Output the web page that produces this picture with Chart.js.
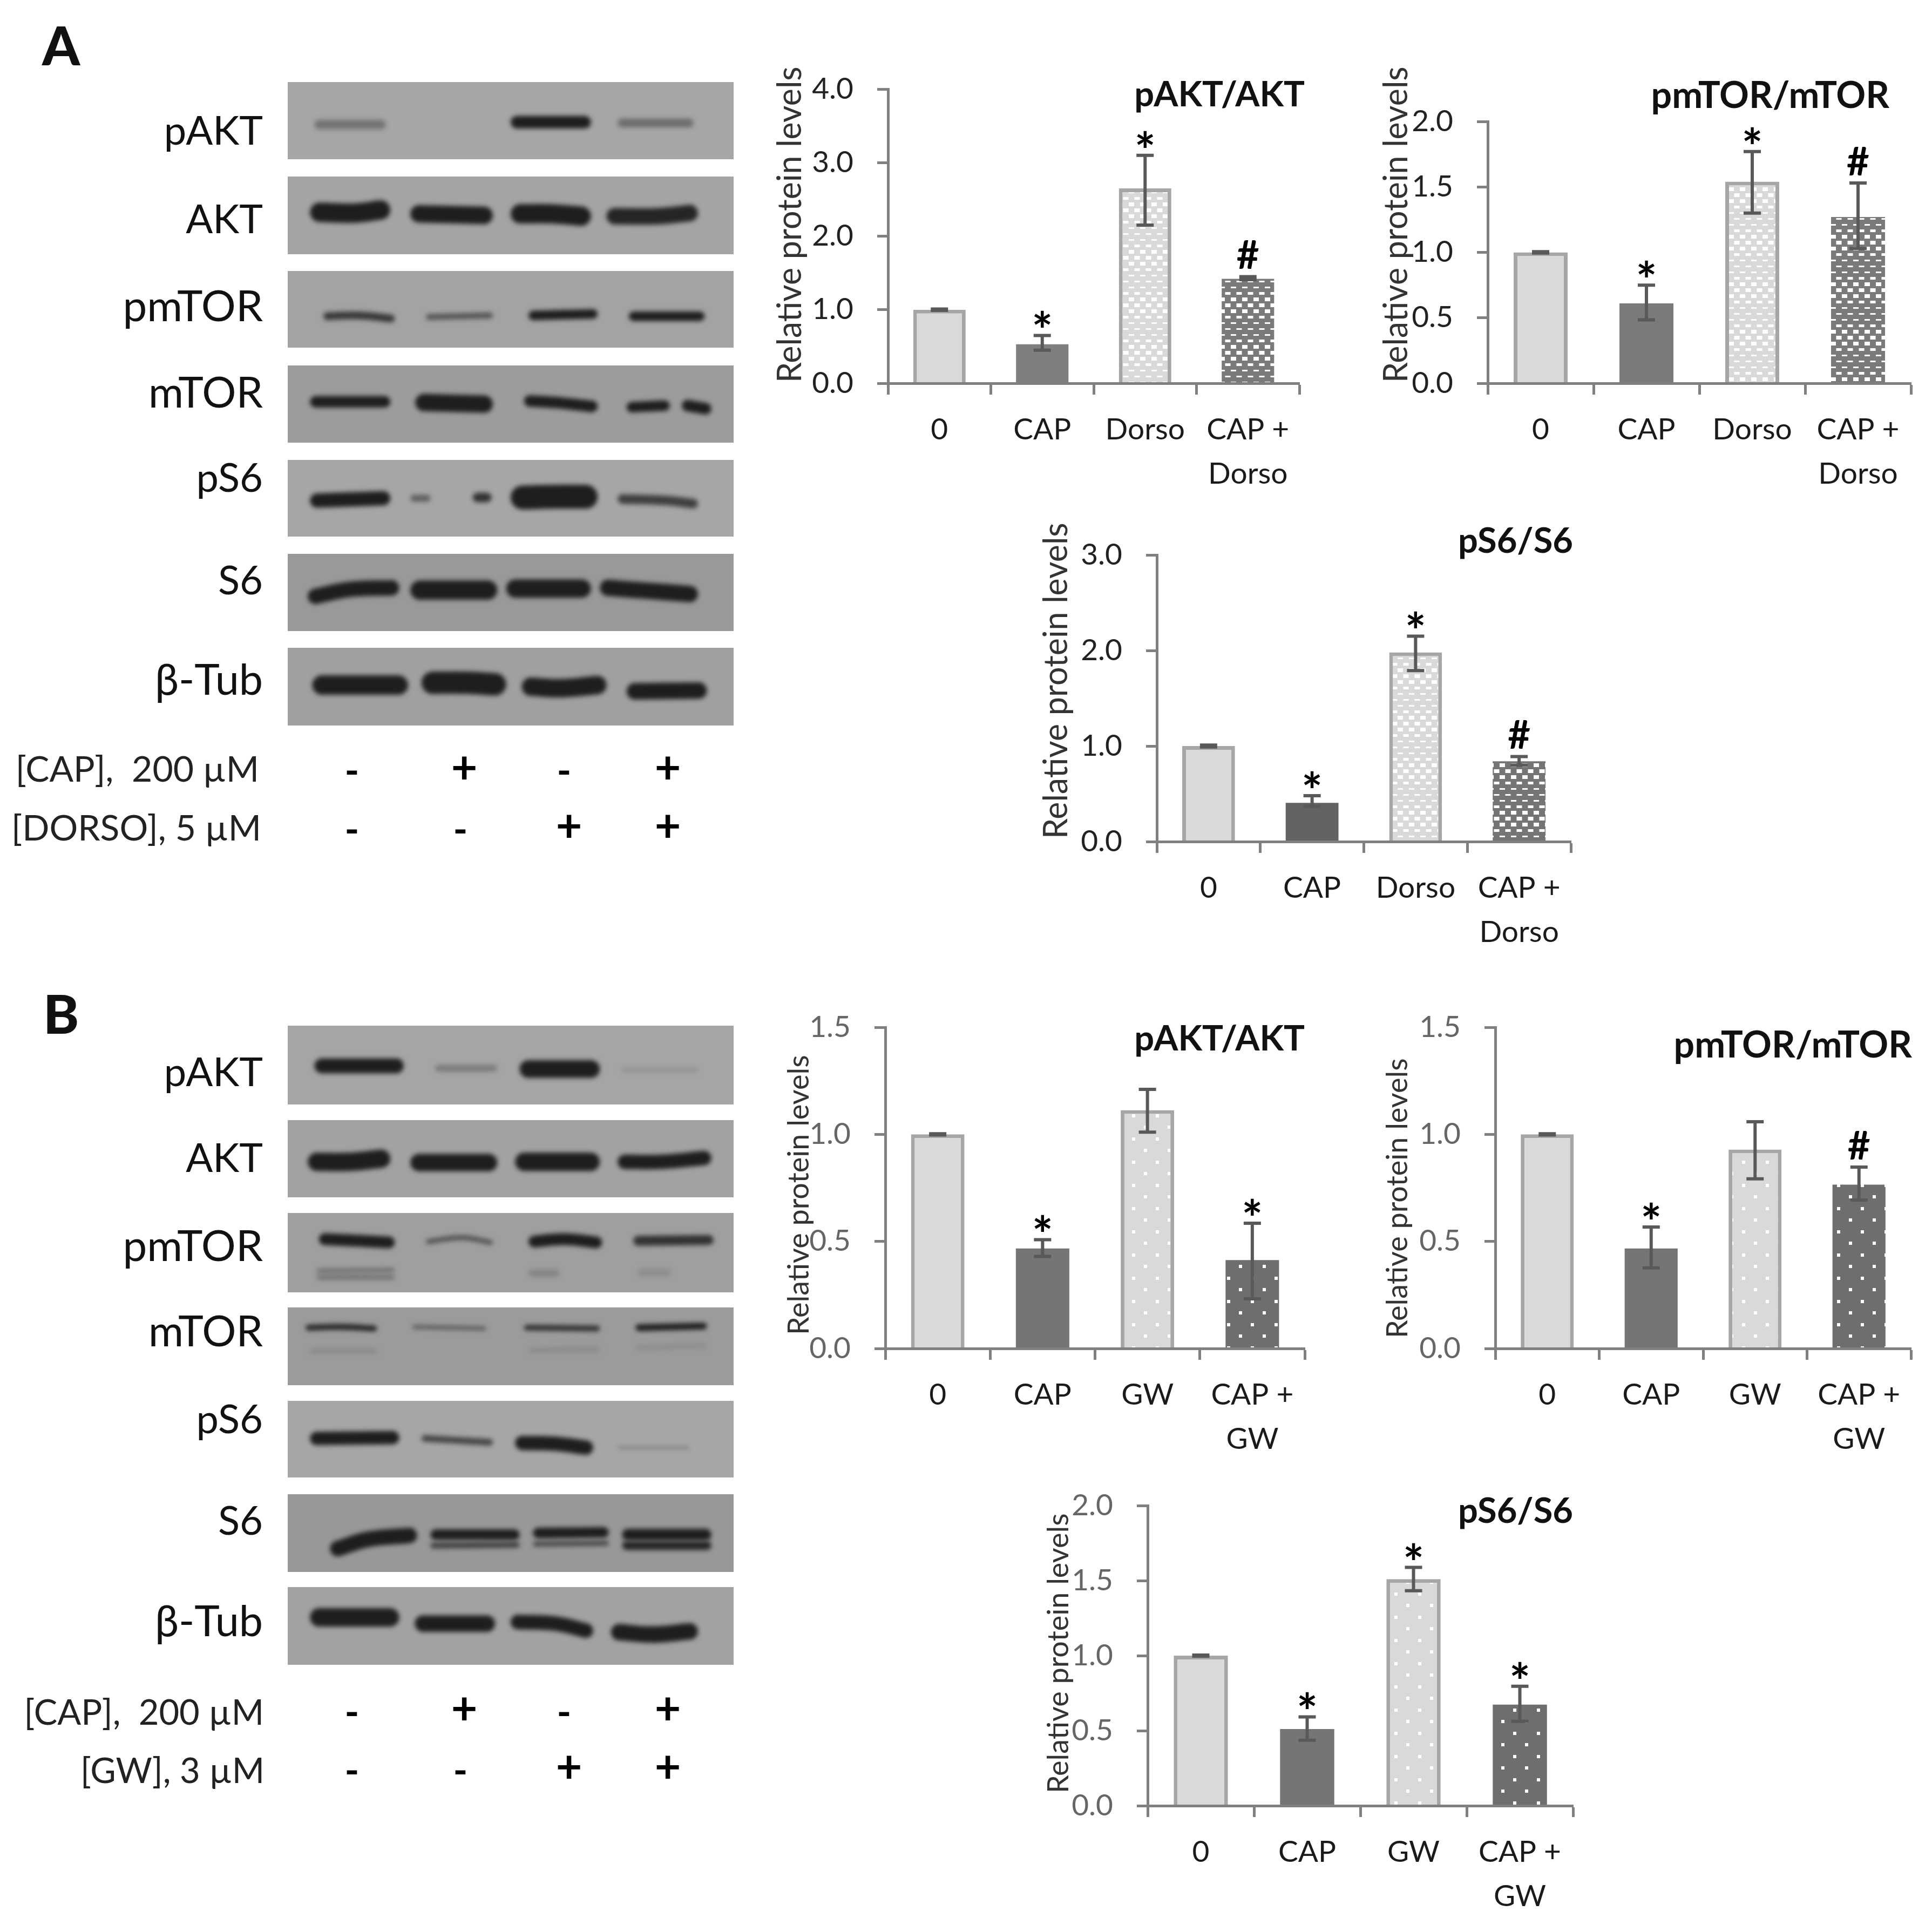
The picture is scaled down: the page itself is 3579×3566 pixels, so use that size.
<!DOCTYPE html>
<html>
<head>
<meta charset="utf-8">
<title>CAP blots</title>
<script src="https://cdn.jsdelivr.net/npm/chart.js@4"></script>
<style>
    html, body { margin: 0; background: #fff; }
    #page { position: relative; width: 3579px; height: 3566px; overflow: hidden; font-family: Lato, sans-serif; color: #111; }
    canvas { position: absolute; display: block; }
    .lbl { position: absolute; line-height: 1; white-space: pre; transform: translateY(-50%); }
    .right { text-align: right; }
    .mark { position: absolute; line-height: 1; font-weight: 700; transform: translate(-50%, -50%); }
</style>
</head>
<body>
<div id="page"></div>
<script>
// Bar chart values
const catsDorso = ['0', 'CAP', 'Dorso', ['CAP +', 'Dorso']];
const catsGw = ['0', 'CAP', 'GW', ['CAP +', 'GW']];

const valuesA1 = [1.0, 0.53, 2.65, 1.42];
const hiA1 = [1.01, 0.65, 3.10, 1.45];
const loA1 = [0.99, 0.45, 2.15, 1.41];
const marksA1 = ['', '*', '*', '#'];

const valuesA2 = [1.0, 0.61, 1.54, 1.27];
const hiA2 = [1.005, 0.75, 1.77, 1.53];
const loA2 = [0.995, 0.485, 1.30, 1.03];
const marksA2 = ['', '*', '*', '#'];

const valuesA3 = [1.0, 0.405, 1.98, 0.84];
const hiA3 = [1.01, 0.48, 2.15, 0.89];
const loA3 = [0.99, 0.37, 1.79, 0.80];
const marksA3 = ['', '*', '*', '#'];

const valuesB1 = [1.0, 0.467, 1.113, 0.413];
const hiB1 = [1.003, 0.508, 1.21, 0.585];
const loB1 = [0.997, 0.43, 1.01, 0.232];
const marksB1 = ['', '*', '', '*'];

const valuesB2 = [1.0, 0.467, 0.929, 0.765];
const hiB2 = [1.003, 0.567, 1.059, 0.847];
const loB2 = [0.997, 0.376, 0.792, 0.693];
const marksB2 = ['', '*', '', '#'];

const valuesB3 = [1.0, 0.511, 1.51, 0.674];
const hiB3 = [1.004, 0.592, 1.588, 0.796];
const loB3 = [0.996, 0.436, 1.433, 0.562];
const marksB3 = ['', '*', '*', '*'];

const ticksA1 = [0, 4, 1], ticksA2 = [0, 2, 0.5], ticksA3 = [0, 3, 1];
const ticksB1 = [0, 1.5, 0.5], ticksB2 = [0, 1.5, 0.5], ticksB3 = [0, 2, 0.5];

// Blot rows. A band is [height %, density, x,y, x,y, ...], in % of the row box
const rowNames = ['pAKT', 'AKT', 'pmTOR', 'mTOR', 'pS6', 'S6', 'β-Tub'];
const rowNameSizes = [74, 74, 80, 79, 74, 74, 79];

const bandsA = [
    [[10, .35, 6,55, 22,55], [13, 1, 50,52, 68,52], [9, .4, 74,53, 91,53]],
    [[20, 1, 5,46, 15,47, 23,43], [18, 1, 27.5,48, 46,50], [20, 1, 50,48, 59,48, 68,51], [17, .95, 71.5,51, 83,51, 92,47]],
    [[8, .8, 8,59, 16,58, 24,62], [6, .6, 31,60, 46,58], [10, 1, 54,58, 69.5,56], [10, 1, 76.5,59, 93.5,59]],
    [[12, 1, 5,47, 23,47], [18, 1.1, 28.6,48, 46,50], [12, 1, 53,46, 60,48, 69.5,53], [11, 1, 76,54, 85.7,52], [12, 1, 88.4,52, 95,56]],
    [[15, 1, 5,53, 23,50], [7, .5, 27.5,50, 32,50], [10, .85, 41.5,49, 45.7,49], [25, 1.2, 50,49, 60,48, 69.5,48], [10, .75, 74,51, 85,53, 92,57]],
    [[16, 1.1, 4.5,55, 14,46, 25,44], [20, 1.1, 27.5,47, 47,47], [19, 1.1, 49,45, 68,45], [17, 1.1, 70,44, 81,48, 92,52]],
    [[20, 1.05, 5.5,48, 27,48], [23, 1.05, 30,45, 40,45, 49,47], [19, 1.05, 52.5,50, 61,52, 71.5,48], [17, 1.05, 76,56, 94,55]]
];

const bandsB = [
    [[15, 1.05, 6,51, 26,51], [7, .28, 33,54, 47,54], [18, 1.15, 52,55, 70,55], [4, .12, 75,56, 92,56]],
    [[19, 1.1, 4.5,54, 14,54, 23,50], [18, 1.1, 27.5,55, 47,55], [19, 1.1, 51,54, 70,54], [15, 1.1, 74,54, 84,54, 95,49]],
    [[12, 1, 7,33, 16,35, 24,37], [5, .6, 31,36, 39,31, 46,37], [12, 1, 54,36, 62,33, 70.5,37], [10, .85, 77.5,35, 95.5,34], [5, .35, 6.5,73, 24,72], [5, .35, 6.5,81, 24,81], [8, .2, 54,76, 61,76], [8, .15, 78.5,75, 86,75]],
    [[6, .95, 4,26, 12,25, 20,27], [4, .55, 28,25, 44.5,27], [6, .85, 53,26, 70,27], [7, 1, 78,26, 94,24], [5, .18, 5,56, 20,56], [5, .18, 54,55, 70,54], [5, .15, 78,52, 94,49]],
    [[14, 1.05, 5,49, 25,48], [7, .7, 30,49, 46,54], [15, 1.05, 51,55, 60,56, 68.5,61], [3, .25, 74,61, 90,61]],
    [[16, 1.1, 9.5,70, 18,58, 29,53], [11, 1.1, 32,52, 52,52], [6, .75, 32,66, 52,65], [11, 1.1, 55,50, 72,49], [5, .7, 55,64, 72,63], [12, 1.1, 75,52, 95,52], [9, .95, 75,66, 95,66]],
    [[19, 1.05, 5,39, 25,39], [17, 1.05, 28.5,47, 46.5,47], [15, 1.05, 50,45, 60,47, 68.5,56], [17, 1.05, 72.5,58, 82,61, 92,57]]
];

const grayA = ['#a6a6a6', '#a4a4a4', '#a3a3a3', '#9c9c9c', '#a6a6a6', '#999999', '#a0a0a0'];
const grayB = ['#a5a5a5', '#a2a2a2', '#9f9f9f', '#9b9b9b', '#a6a6a6', '#989898', '#a2a2a2'];

const rowTopsA = [152, 327, 502, 677, 852, 1026, 1200];
const rowBottomsA = [295, 471, 644, 820, 994, 1169, 1344];
const rowMidsA = [240, 404, 564, 724, 883, 1073, 1256];
const rowTopsB = [1900, 2075, 2247, 2422, 2595, 2768, 2940];
const rowBottomsB = [2046, 2218, 2394, 2566, 2737, 2912, 3084];
const rowMidsB = [1984, 2143, 2305, 2463, 2627, 2815, 3000];

const treatA = ['[CAP],  200 µM', '[DORSO], 5 µM'];
const treatB = ['[CAP],  200 µM', '[GW], 3 µM'];
const signsCap = ['-', '+', '-', '+'];
const signsDrug = ['-', '-', '+', '+'];

Chart.defaults.font.family = 'Lato, sans-serif';
Chart.defaults.animation = false;

const page = document.getElementById('page');

function addText(text, x, y, size, cls, color) {
    const el = document.createElement('div');
    el.className = cls;
    el.textContent = text;
    el.style.fontSize = size + 'px';
    el.style.top = y + 'px';
    if (cls.indexOf('right') >= 0) {
        el.style.left = (x - 700) + 'px';
        el.style.width = '700px';
    } else {
        el.style.left = x + 'px';
    }
    if (color) el.style.color = color;
    page.appendChild(el);
    return el;
}

function addCanvas(x, y, w, h) {
    const c = document.createElement('canvas');
    c.width = w;
    c.height = h;
    c.style.left = x + 'px';
    c.style.top = y + 'px';
    c.style.width = w + 'px';
    c.style.height = h + 'px';
    page.appendChild(c);
    return c;
}

// ---- blots ----
function grayFor(density) {
    const g = Math.round(Math.max(30, 160 - 130 * density));
    return `rgb(${g},${g},${g})`;
}

const blotPlugin = {
    id: 'blot',
    beforeDraw(chart, args, opts) {
        chart.ctx.fillStyle = opts.background;
        chart.ctx.fillRect(0, 0, chart.width, chart.height);
    },
    beforeDatasetsDraw(chart) {
        chart.ctx.save();
        chart.ctx.filter = 'blur(4px)';
    },
    afterDatasetsDraw(chart) {
        chart.ctx.restore();
    }
};

function drawBlotRow(bands, top, bottom, bg) {
    const h = bottom - top;
    const canvas = addCanvas(533, top, 826, h);
    const datasets = bands.map(b => {
        const pts = [];
        for (let i = 2; i < b.length; i += 2) pts.push({ x: b[i], y: b[i + 1] });
        const wide = b[0] / 100 * h * 1.25;
        // round caps stick out, pull the ends in
        const inset = wide / 2 / 8.26;
        pts[0].x += inset;
        pts[pts.length - 1].x -= inset;
        return {
            data: pts,
            borderColor: grayFor(b[1]),
            borderWidth: wide,
            borderCapStyle: 'round',
            tension: 0.4,
            pointRadius: 0
        };
    });
    new Chart(canvas, {
        type: 'line',
        data: { datasets },
        plugins: [blotPlugin],
        options: {
            responsive: false,
            devicePixelRatio: 1,
            layout: { padding: 0 },
            plugins: { legend: { display: false }, tooltip: { enabled: false }, blot: { background: bg } },
            scales: {
                x: { type: 'linear', min: 0, max: 100, display: false },
                y: { min: 0, max: 100, reverse: true, display: false }
            }
        }
    });
}

bandsA.forEach((bands, i) => drawBlotRow(bands, rowTopsA[i], rowBottomsA[i], grayA[i]));
bandsB.forEach((bands, i) => drawBlotRow(bands, rowTopsB[i], rowBottomsB[i], grayB[i]));

rowNames.forEach((name, i) => {
    addText(name, 487, rowMidsA[i], rowNameSizes[i], 'lbl right');
    addText(name, 487, rowMidsB[i], rowNameSizes[i], 'lbl right');
});

addText('A', 78, 82, 100, 'lbl').style.fontWeight = 900;
addText('B', 80, 1876, 100, 'lbl').style.fontWeight = 900;

addText(treatA[0], 480, 1423, 66, 'lbl right', '#222');
addText(treatA[1], 484, 1532, 66, 'lbl right', '#222');
addText(treatB[0], 489, 3170, 65, 'lbl right', '#222');
addText(treatB[1], 490, 3278, 65, 'lbl right', '#222');

function addSigns(signs, xs, minusY, plusY) {
    signs.forEach((s, i) => {
        addText(s, xs[i], s === '+' ? plusY : minusY, s === '+' ? 84 : 72, 'mark', '#000');
    });
}
addSigns(signsCap, [652, 860, 1045, 1237], 1425, 1419);
addSigns(signsDrug, [652, 853, 1054, 1237], 1534, 1527);
addSigns(signsCap, [652, 860, 1045, 1237], 3169, 3162);
addSigns(signsDrug, [652, 853, 1054, 1237], 3277, 3270);

// ---- bar charts ----
function makePattern(base, kind) {
    const c = document.createElement('canvas');
    const g = c.getContext('2d');
    if (kind === 'grid') {
        // staggered white cells, row height drifts like in the scan
        const heights = [3, 3, 3, 5, 7, 7, 7, 5];
        c.width = 21;
        c.height = 88;
        g.fillStyle = base;
        g.fillRect(0, 0, 21, 88);
        g.fillStyle = '#fff';
        heights.forEach((rh, i) => {
            const rowY = i * 11 + (11 - rh) / 2;
            if (i % 2 === 0) {
                g.fillRect(3, rowY, 10, rh);
            } else {
                g.fillRect(13.5, rowY, 7.5, rh);
                g.fillRect(0, rowY, 2.5, rh);
            }
        });
    } else {
        c.width = 44;
        c.height = 43;
        g.fillStyle = base;
        g.fillRect(0, 0, 44, 43);
        g.fillStyle = '#fff';
        g.fillRect(3, 3, 6, 6);
        g.fillRect(25, 24, 6, 6);
    }
    return g.createPattern(c, 'repeat');
}

const LIGHT = '#d9d9d9', EDGE = '#a6a6a6', AXIS = '#7f7f7f', ERR = '#595959';
const M = { left: 250, right: 40, top: 100, bottom: 200 };

const extrasPlugin = {
    id: 'extras',
    afterDatasetsDraw(chart, args, o) {
        const ctx = chart.ctx, y = chart.scales.y;
        const bars = chart.getDatasetMeta(0).data;
        ctx.save();
        bars.forEach((bar, i) => {
            const yHi = y.getPixelForValue(o.hi[i]), yLo = y.getPixelForValue(o.lo[i]);
            ctx.strokeStyle = ERR;
            ctx.lineWidth = 6;
            ctx.beginPath();
            ctx.moveTo(bar.x, yHi);
            ctx.lineTo(bar.x, yLo);
            ctx.moveTo(bar.x - 16, yHi);
            ctx.lineTo(bar.x + 16, yHi);
            ctx.moveTo(bar.x - 16, yLo);
            ctx.lineTo(bar.x + 16, yLo);
            ctx.stroke();
            const m = o.marks[i];
            if (m) {
                ctx.fillStyle = '#000';
                ctx.textAlign = 'center';
                ctx.textBaseline = 'alphabetic';
                if (m === '*') {
                    ctx.font = '700 92px Lato, sans-serif';
                    ctx.fillText(m, bar.x, yHi - 28 + 53);
                } else {
                    ctx.font = '700 72px Lato, sans-serif';
                    ctx.fillText(m, bar.x, yHi - 40 + 26);
                }
            }
        });
        // panel title
        ctx.fillStyle = '#111';
        ctx.font = '700 ' + o.titleSize + 'px Lato, sans-serif';
        ctx.textAlign = 'right';
        ctx.textBaseline = 'middle';
        ctx.fillText(o.title, o.titleX - o.ox, o.titleY - o.oy);
        // rotated axis label
        ctx.save();
        ctx.translate(o.yLabelX - o.ox, o.yLabelY - o.oy);
        ctx.rotate(-Math.PI / 2);
        ctx.font = o.yLabelSize + 'px Lato, sans-serif';
        ctx.fillStyle = '#333';
        ctx.textAlign = 'left';
        ctx.textBaseline = 'alphabetic';
        ctx.fillText('Relative protein levels', 0, 0);
        ctx.restore();
        ctx.restore();
    }
};

function barChart(cfg) {
    const r = cfg.rect;
    const canvas = addCanvas(r[0] - M.left, r[1] - M.top, r[2] - r[0] + M.left + M.right, r[3] - r[1] + M.top + M.bottom);
    const dotted = cfg.pattern === 'dots' ? 'dots' : 'grid';
    new Chart(canvas, {
        type: 'bar',
        data: {
            labels: cfg.cats,
            datasets: [{
                data: cfg.values,
                backgroundColor: [LIGHT, cfg.dark, makePattern(LIGHT, dotted), makePattern(cfg.darkPat, dotted)],
                borderColor: [EDGE, cfg.dark, EDGE, cfg.darkPat],
                borderWidth: [7, 0, 7, 0],
                barPercentage: 0.51,
                categoryPercentage: 1
            }]
        },
        plugins: [extrasPlugin],
        options: {
            responsive: false,
            devicePixelRatio: 1,
            layout: { padding: { top: M.top, right: M.right, left: 0, bottom: 0 } },
            plugins: {
                legend: { display: false },
                tooltip: { enabled: false },
                extras: {
                    hi: cfg.hi, lo: cfg.lo, marks: cfg.marks,
                    title: cfg.title, titleX: cfg.titleX, titleY: cfg.titleY, titleSize: cfg.titleSize,
                    yLabelX: cfg.yLabel[0], yLabelY: cfg.yLabel[1], yLabelSize: cfg.yLabel[2],
                    ox: r[0] - M.left, oy: r[1] - M.top
                }
            },
            scales: {
                x: {
                    afterFit(s) { s.height = M.bottom; s.paddingLeft = 0; s.paddingRight = 0; },
                    border: { color: AXIS, width: 5, z: 1 },
                    grid: { drawOnChartArea: false, drawTicks: true, tickLength: 21, tickColor: AXIS, tickWidth: 5 },
                    ticks: { color: '#1a1a1a', font: { size: 55, lineHeight: 1.5 }, padding: 24, maxRotation: 0, minRotation: 0, autoSkip: false }
                },
                y: {
                    min: cfg.ticks[0],
                    max: cfg.ticks[1],
                    afterFit(s) { s.width = M.left; s.paddingTop = 0; s.paddingBottom = 0; },
                    border: { color: AXIS, width: 5, z: 1 },
                    grid: { drawOnChartArea: false, drawTicks: true, tickLength: 20, tickColor: AXIS, tickWidth: 5 },
                    ticks: {
                        stepSize: cfg.ticks[2],
                        color: cfg.tickColor,
                        font: { size: 55 },
                        padding: 44,
                        callback: v => Number(v).toFixed(1)
                    }
                }
            }
        }
    });
}

barChart({ rect: [1645, 165, 2407, 710], cats: catsDorso, values: valuesA1, hi: hiA1, lo: loA1, marks: marksA1, ticks: ticksA1,
    title: 'pAKT/AKT', titleX: 2417, titleY: 176, titleSize: 65, yLabel: [1484, 709, 61], dark: '#7f7f7f', darkPat: '#7a7a7a', pattern: 'grid', tickColor: '#222' });
barChart({ rect: [2756, 225, 3540, 710], cats: catsDorso, values: valuesA2, hi: hiA2, lo: loA2, marks: marksA2, ticks: ticksA2,
    title: 'pmTOR/mTOR', titleX: 3500, titleY: 178, titleSize: 68, yLabel: [2607, 709, 61], dark: '#7a7a7a', darkPat: '#7a7a7a', pattern: 'grid', tickColor: '#222' });
barChart({ rect: [2143, 1028, 2910, 1559], cats: catsDorso, values: valuesA3, hi: hiA3, lo: loA3, marks: marksA3, ticks: ticksA3,
    title: 'pS6/S6', titleX: 2914, titleY: 1003, titleSize: 65, yLabel: [1977, 1554, 61], dark: '#636363', darkPat: '#757575', pattern: 'grid', tickColor: '#222' });
barChart({ rect: [1640, 1903, 2417, 2498], cats: catsGw, values: valuesB1, hi: hiB1, lo: loB1, marks: marksB1, ticks: ticksB1,
    title: 'pAKT/AKT', titleX: 2417, titleY: 1925, titleSize: 65, yLabel: [1498, 2473, 54], dark: '#757575', darkPat: '#6e6e6e', pattern: 'dots', tickColor: '#666' });
barChart({ rect: [2770, 1903, 3540, 2498], cats: catsGw, values: valuesB2, hi: hiB2, lo: loB2, marks: marksB2, ticks: ticksB2,
    title: 'pmTOR/mTOR', titleX: 3542, titleY: 1937, titleSize: 68, yLabel: [2607, 2479, 54], dark: '#757575', darkPat: '#6e6e6e', pattern: 'dots', tickColor: '#666' });
barChart({ rect: [2126, 2789, 2914, 3345], cats: catsGw, values: valuesB3, hi: hiB3, lo: loB3, marks: marksB3, ticks: ticksB3,
    title: 'pS6/S6', titleX: 2914, titleY: 2800, titleSize: 65, yLabel: [1979, 3322, 54], dark: '#757575', darkPat: '#6e6e6e', pattern: 'dots', tickColor: '#666' });
</script>
</body>
</html>
